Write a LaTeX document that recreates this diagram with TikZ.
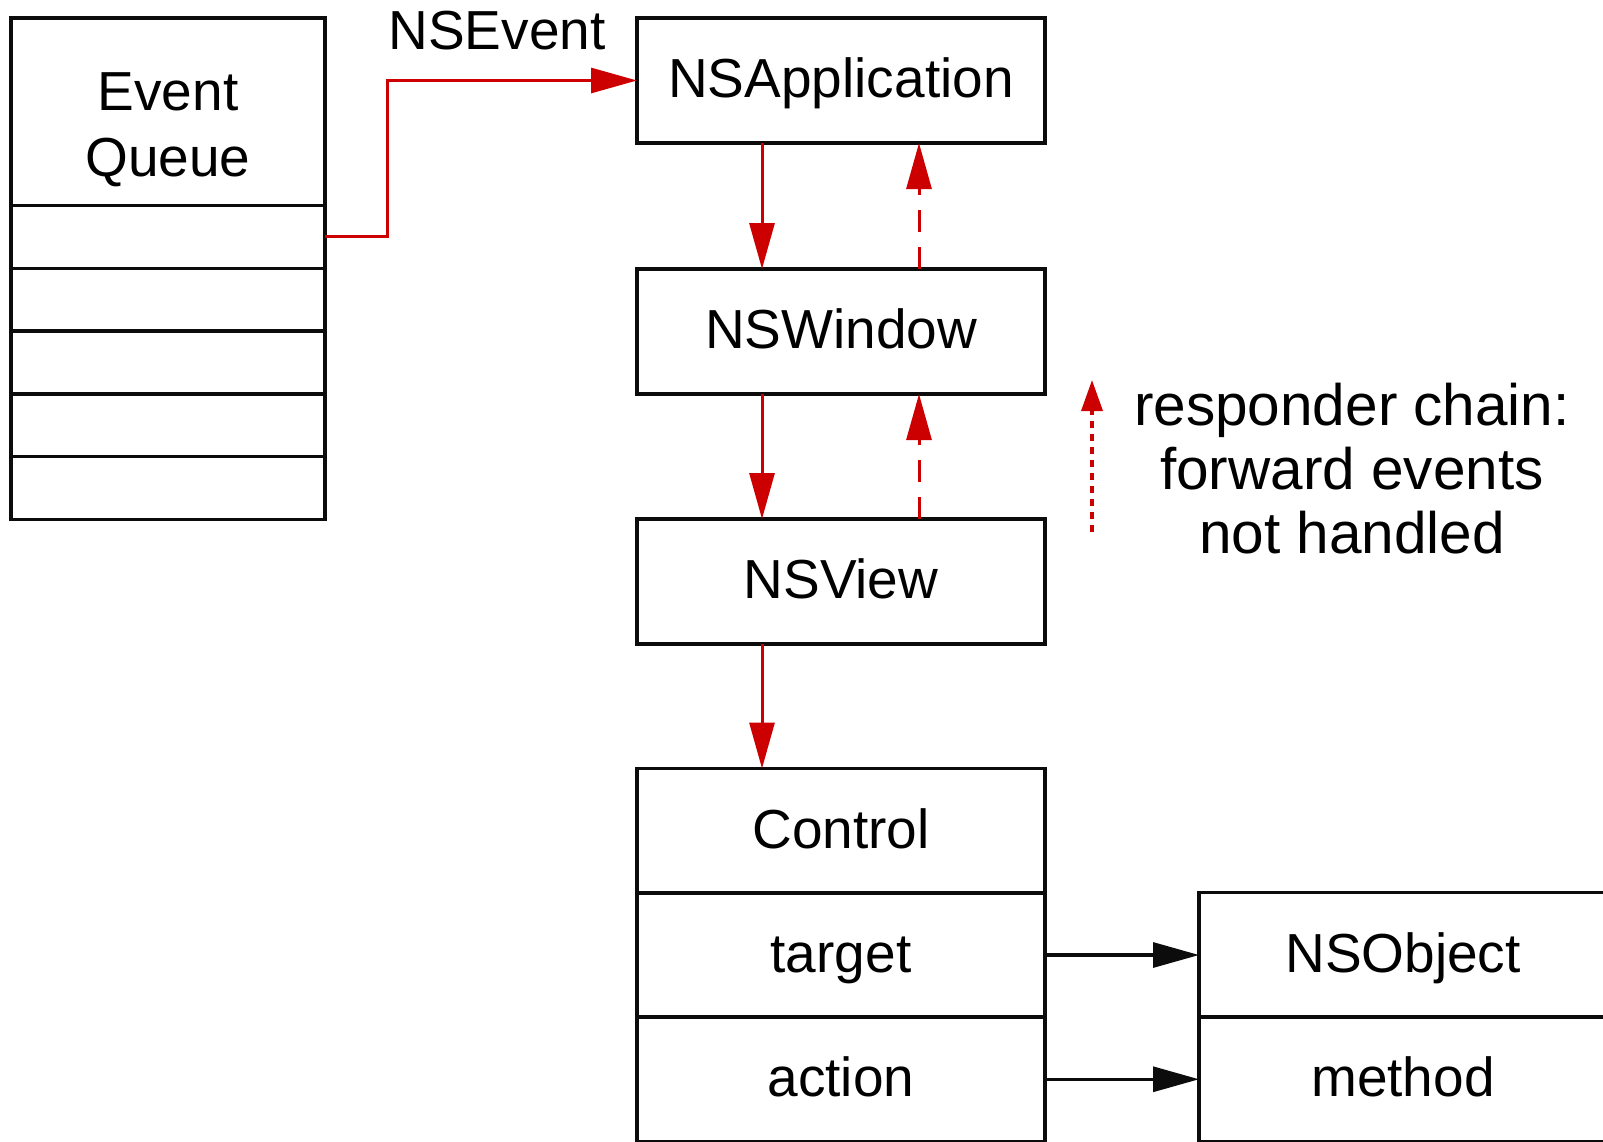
\documentclass[tikz,border=0pt]{standalone}
\usepackage{fontspec}
\setmainfont{Liberation Sans}
\usetikzlibrary{arrows.meta}
\definecolor{flowred}{RGB}{204,0,0}
\definecolor{ink}{RGB}{12,12,12}

\begin{document}
\begin{tikzpicture}[x=1pt,y=-1pt,
  box/.style={draw=ink, line width=3.8pt, minimum width=408pt, minimum height=125pt,
    inner sep=0pt, outer sep=0pt, font=\fontsize{55}{66}\selectfont,
    text height=34pt, text depth=0pt},
  qhead/.style={draw=ink, line width=3.5pt, minimum width=314pt, minimum height=187.5pt,
    inner sep=0pt, outer sep=0pt, align=center, font=\fontsize{55}{66}\selectfont,
    text height=128.5pt, text depth=0pt},
  qrow/.style={draw=ink, line width=3.5pt, minimum width=314pt, minimum height=62.8pt,
    inner sep=0pt, outer sep=0pt},
  redtip/.style={-{Triangle[length=46pt,width=25pt]}},
  redflow/.style={draw=flowred, line width=3pt, redtip},
  redback/.style={draw=flowred, line width=3pt, redtip, dash pattern=on 22pt off 15pt},
  chainhint/.style={draw=flowred, line width=3.5pt, dash pattern=on 7pt off 6pt,
    -{Triangle[length=31pt,width=21pt]}},
  msgarrow/.style={draw=ink, line width=3.2pt, -{Triangle[length=46pt,width=25pt]}},
  note/.style={inner sep=0pt, font=\fontsize{55}{66}\selectfont}
]
\useasboundingbox (0,0) rectangle (1603,1141);
\clip (0,0) rectangle (1603,1141);

% event queue: header and five slots
\node[qhead] (queue) at (168,111.75) {Event\\Queue};
\node[qrow] (q1) at (168,236.9) {};
\node[qrow] (q2) at (168,299.7) {};
\node[qrow] (q3) at (168,362.5) {};
\node[qrow] (q4) at (168,425.3) {};
\node[qrow] (q5) at (168,488.1) {};

% responder objects
\node[box] (app) at (841,80.5) {NSApplication};
\node[box] (win) at (841,331.5) {NSWindow};
\node[box] (view) at (841,581.5) {NSView};

% control with its target and action
\node[box] (control) at (841,831) {Control};
\node[box] (target) at (841,955) {target};
\node[box] (action) at (841,1079.25) {action};

% receiving object
\node[box] (obj) at (1403,955) {NSObject};
\node[box] (method) at (1403,1079.25) {method};

% event delivered from the queue
\draw[redflow] (q1.east) -- ++(62,0) |- (app.west);
\node[note, anchor=base] (evlabel) at (497,49) {NSEvent};

% dispatch down and forwarding back up
\coordinate (downx) at (762,0);
\coordinate (upx) at (919,0);
\draw[redflow] (app.south -| downx) -- (win.north -| downx);
\draw[redflow] (win.south -| downx) -- (view.north -| downx);
\draw[redflow] (view.south -| downx) -- (control.north -| downx);
\draw[redback] (win.north -| upx) -- (app.south -| upx);
\draw[redback] (view.north -| upx) -- (win.south -| upx);

% legend for the responder chain (base anchor sits on the last line)
\coordinate (hintbot) at (1092,532);
\coordinate (hinttop) at (1092,380);
\draw[chainhint] (hintbot) -- (hinttop);
\node[align=center, inner sep=0pt, font=\fontsize{58.5}{64}\selectfont, anchor=base]
  (chainnote) at (1352,553) {responder chain:\\forward events\\not handled};

% target/action links
\draw[msgarrow] (target.east) -- (obj.west);
\draw[msgarrow] (action.east) -- (method.west);
\end{tikzpicture}
\end{document}
